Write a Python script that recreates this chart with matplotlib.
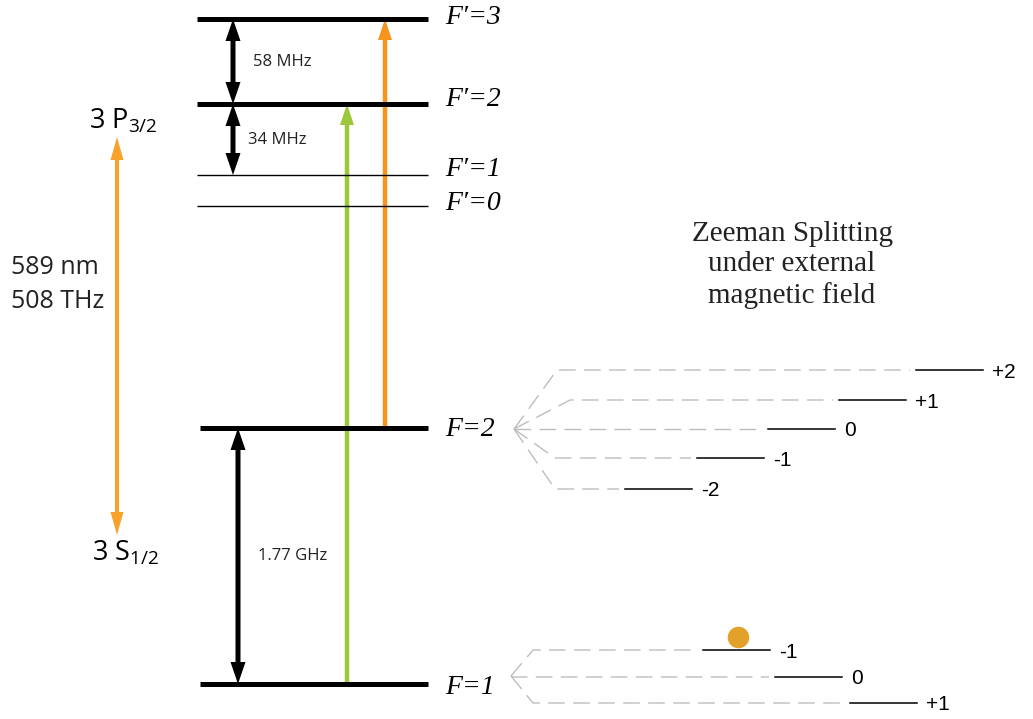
import matplotlib.pyplot as plt

plt.rcParams['mathtext.default'] = 'regular'

# hyperfine levels of the Na D2 line (y in picture pixels, top = 0)
level_names = ["F\u2032=3", "F\u2032=2", "F\u2032=1", "F\u2032=0", "F=2", "F=1"]
level_y = [19, 104, 175, 206, 428, 684]
level_x0 = [197, 197, 197, 197, 200, 200]
level_thick = [True, True, False, False, True, True]

# splittings
split_labels = ["58 MHz", "34 MHz", "1.77 GHz"]
split_from = [19, 104, 428]
split_to = [104, 175, 684]

# Zeeman sublevels of F=2
f2_m = ["+2", "+1", "0", "-1", "-2"]
f2_y = [370, 400, 429, 458, 489]
f2_dash_x = [557, 570, 515, 555, 555]
f2_bar_x = [916, 839, 768, 697, 625]

# Zeeman sublevels of F=1
f1_m = ["-1", "0", "+1"]
f1_y = [650, 677, 703]
f1_dash_x = [533, 513, 533]
f1_bar_x = [703, 775, 850]

fig = plt.figure(figsize=(10.33, 7.19), dpi=100)
ax = fig.add_axes([0, 0, 1, 1])
ax.set_xlim(0, 1033)
ax.set_ylim(719, 0)
ax.axis('off')

serif_it = dict(family=['Liberation Serif', 'DejaVu Serif'], style='italic', fontsize=20)
sans = ['Open Sans', 'DejaVu Sans']
arial = ['Liberation Sans', 'DejaVu Sans']

# levels (labels sit a little off their lines in the original)
label_dy = [-2, -5, -5, -2, 2, 3]
for name, y, x0, thick, dy in zip(level_names, level_y, level_x0, level_thick, label_dy):
    ax.plot([x0, 428], [y, y], color='black', lw=3.6 if thick else 1.0,
            solid_capstyle='butt')
    ax.text(445, y + dy, name, ha='left', va='center', **serif_it)

# one unit = one pixel, so arrows can be sized directly
def arrow(x, y0, y1, color, w=4.5, hw=14, hl=21):
    ax.arrow(x, y0, 0, y1 - y0, width=w, head_width=hw, head_length=hl,
             length_includes_head=True, color=color, lw=0)

def double_arrow(x, y0, y1, color, w=5, hw=15, hl=22):
    # vertical arrow with a head at both ends, as one polygon
    top, bot = min(y0, y1), max(y0, y1)
    xs = [x, x + hw / 2, x + w / 2, x + w / 2, x + hw / 2, x,
          x - hw / 2, x - w / 2, x - w / 2, x - hw / 2]
    ys = [top, top + hl, top + hl, bot - hl, bot - hl, bot,
          bot - hl, bot - hl, top + hl, top + hl]
    ax.fill(xs, ys, color=color, lw=0)

# splitting arrows
split_x = [233, 233, 238]
label_x = [253, 248, 258]
for sx, lx, lab, a, b in zip(split_x, label_x, split_labels, split_from, split_to):
    double_arrow(sx, a, b, 'black', w=5, hw=15, hl=22)
    ax.text(lx, (a + b) / 2, lab, ha='left', va='center', fontsize=12,
            family=sans, color='#222222')

# laser transitions
arrow(347, 684, 104, '#9dc83c', w=4.5, hw=14, hl=21)
arrow(385, 428, 19, '#f7941d', w=4.5, hw=14, hl=21)

# fine structure arrow
double_arrow(117, 535, 137, '#f8a12b', w=4, hw=13, hl=23)
ax.text(89, 121, "3 P$_{3/2}$", ha='left', va='center', fontsize=19.5, family=sans)
ax.text(92, 553, "3 S$_{1/2}$", ha='left', va='center', fontsize=19.5, family=sans)
ax.text(11, 267, "589 nm", ha='left', va='center', fontsize=18, family=sans, color='#222222')
ax.text(11, 301, "508 THz", ha='left', va='center', fontsize=18, family=sans, color='#222222')

# Zeeman title
ax.text(792, 265, "Zeeman Splitting\nunder external\nmagnetic field", ha='center',
        va='center', fontsize=21, family=['Liberation Serif', 'DejaVu Serif'],
        linespacing=1.22, color='#222222')

def zeeman(apex, ms, ys, dash_x, bar_x):
    for m, y, dx, bx in zip(ms, ys, dash_x, bar_x):
        ax.plot([apex[0], dx, bx - 6], [apex[1], y, y], color='#bdbdbd', lw=1.0,
                dashes=(12, 6))
        ax.plot([bx, bx + 67], [y, y], color='black', lw=1.1)
        ax.text(bx + 76, y + 2, m, ha='left', va='center', fontsize=15, family=arial)

zeeman((514, 429), f2_m, f2_y, f2_dash_x, f2_bar_x)
zeeman((511, 676), f1_m, f1_y, f1_dash_x, f1_bar_x)

# atom in m=-1 of F=1
ax.plot([738], [637], 'o', color='#e2a229', markersize=14.5)

fig.savefig('out.png', dpi=100)
